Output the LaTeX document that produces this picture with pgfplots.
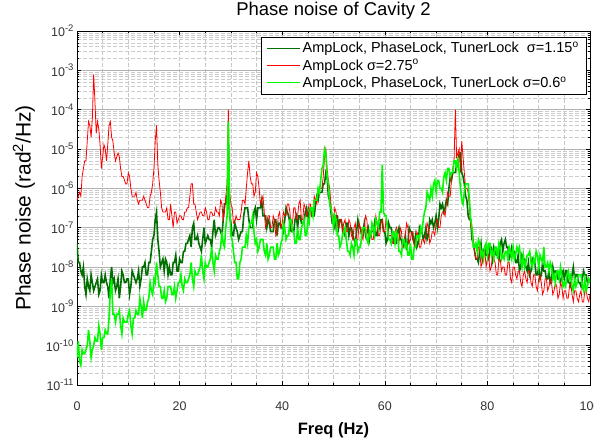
\documentclass[border=0pt]{standalone}
\usepackage{fontspec}
\setmainfont{Liberation Sans}
\usepackage{pgfplots}
\pgfplotsset{compat=1.18}
\usepackage{pgfplotstable}
\definecolor{dkgreen}{RGB}{0,110,0}
\definecolor{ltgreen}{RGB}{0,250,0}
\newcommand{\ex}[1]{10\raisebox{0.42em}{\fontsize{9.5}{10}\selectfont #1}}
\pgfplotstableread{
x R D G
0 5.0e-7 4.0e-8 5.0e-11
0.25 6.3e-7 1.3e-8 1.3e-10
0.5 7.9e-7 1.3e-8 4.0e-11
0.75 6.3e-7 7.9e-9 3.2e-11
1 2.0e-6 6.3e-9 7.9e-11
1.25 3.2e-6 1e-8 6.3e-11
1.5 5.0e-6 3.2e-9 6.3e-11
1.75 5.0e-6 2.0e-9 7.9e-11
2 1.6e-5 5.0e-9 1e-10
2.25 5.0e-5 3.2e-9 2.5e-10
2.5 4.0e-5 2.5e-9 1.3e-10
2.75 2.0e-5 6.3e-9 5.0e-11
3 6.3e-5 4.0e-9 7.9e-11
3.25 7.9e-4 2.5e-9 1e-10
3.5 1.6e-4 3.2e-9 1.6e-10
3.75 2.5e-5 4.0e-9 1.3e-10
4 5.0e-5 5.0e-9 1.3e-10
4.25 3.2e-5 2.0e-9 3.2e-10
4.5 1.3e-5 2.5e-9 2.0e-10
4.75 3.2e-6 6.3e-9 7.9e-11
5 6.3e-6 4.0e-9 1.6e-10
5.25 1.3e-5 4.0e-9 1.6e-10
5.5 1e-5 6.3e-9 2.5e-10
5.75 5.0e-6 4.0e-9 2.0e-10
6 1.3e-5 3.2e-9 2.0e-10
6.25 4.0e-5 1.6e-9 5.0e-10
6.5 5.0e-5 5.0e-9 2.5e-9
6.75 2.0e-5 1e-8 5.0e-9
7 1.6e-5 4.0e-9 6.3e-10
7.25 7.9e-6 5.0e-9 6.3e-10
7.5 5.0e-6 2.5e-9 4.0e-10
7.75 6.3e-6 3.2e-9 6.3e-10
8 7.9e-6 5.0e-9 6.3e-10
8.25 6.3e-6 1.6e-9 7.9e-10
8.5 3.2e-6 3.2e-9 3.2e-10
8.75 2.0e-6 7.9e-9 2.0e-10
9 2.0e-6 6.3e-9 5.0e-10
9.25 1.6e-6 4.0e-9 4.0e-10
9.5 1.3e-6 4.0e-9 4.0e-10
9.75 1.3e-6 5.0e-9 4.0e-10
10 2.5e-6 5.0e-9 6.3e-10
10.25 2.0e-6 2.0e-9 7.9e-10
10.5 1e-6 3.2e-9 3.2e-10
10.75 6.3e-7 7.9e-9 2.0e-10
11 6.3e-7 6.3e-9 5.0e-10
11.25 6.3e-7 5.0e-9 5.0e-10
11.5 7.9e-7 4.0e-9 7.9e-10
11.75 5.0e-7 5.0e-9 6.3e-10
12 4.0e-7 7.9e-9 6.3e-10
12.25 5.0e-7 3.2e-9 1.6e-9
12.5 5.0e-7 5.0e-9 1e-9
12.75 5.0e-7 1e-8 5.0e-10
13 6.3e-7 1e-8 1.3e-9
13.25 5.0e-7 1.3e-8 7.9e-10
13.5 4.0e-7 6.3e-9 7.9e-10
13.75 3.2e-7 6.3e-9 1.3e-9
14 3.2e-7 1.3e-8 1.6e-9
14.25 6.3e-7 1.3e-8 4.0e-9
14.5 7.9e-7 2.5e-8 2.5e-9
14.75 1.3e-6 5.0e-8 2.0e-9
15 3.2e-6 6.3e-8 5.0e-9
15.25 1.6e-5 1.6e-7 4.0e-9
15.5 4.0e-5 2.5e-7 1.3e-8
15.75 4.0e-6 5.0e-8 6.3e-9
16 1.6e-6 2.5e-8 3.2e-9
16.25 7.9e-7 1e-8 3.2e-9
16.5 3.2e-7 1.3e-8 1.6e-9
16.75 2.5e-7 1.6e-8 1.6e-9
17 2.5e-7 7.9e-9 2.5e-9
17.25 2.5e-7 1.6e-8 1.3e-9
17.5 3.2e-7 1.3e-8 1.6e-9
17.75 1.6e-7 6.3e-9 3.2e-9
18 1.6e-7 1e-8 3.2e-9
18.25 4.0e-7 6.3e-9 3.2e-9
18.5 2.0e-7 6.3e-9 2.0e-9
18.75 1e-7 1.3e-8 2.0e-9
19 2.5e-7 1.3e-8 3.2e-9
19.25 2.5e-7 2.0e-8 1.6e-9
19.5 1.3e-7 7.9e-9 2.5e-9
19.75 1.6e-7 7.9e-9 4.0e-9
20 2.0e-7 1.6e-8 4.0e-9
20.25 2.0e-7 1.3e-8 6.3e-9
20.5 1.6e-7 1.3e-8 3.2e-9
20.75 1.6e-7 2.5e-8 2.5e-9
21 2.5e-7 2.5e-8 5.0e-9
21.25 2.5e-7 4.0e-8 4.0e-9
21.5 3.2e-7 4.0e-8 4.0e-9
21.75 3.2e-7 5.0e-8 5.0e-9
22 6.3e-7 6.3e-8 6.3e-9
22.25 1.3e-6 3.2e-8 1.3e-8
22.5 1.3e-6 1e-7 5.0e-9
22.75 4.0e-7 1.3e-7 3.2e-9
23 4.0e-7 5.0e-8 7.9e-9
23.25 2.5e-7 5.0e-8 6.3e-9
23.5 1.6e-7 6.3e-8 6.3e-9
23.75 2.0e-7 4.0e-8 7.9e-9
24 2.5e-7 3.2e-8 1e-8
24.25 2.5e-7 2.5e-8 2.0e-8
24.5 2.0e-7 5.0e-8 7.9e-9
24.75 2.0e-7 1e-7 5.0e-9
25 3.2e-7 4.0e-8 1.3e-8
25.25 2.5e-7 5.0e-8 1e-8
25.5 1.6e-7 6.3e-8 1e-8
25.75 1.6e-7 5.0e-8 1.3e-8
26 2.5e-7 5.0e-8 1.6e-8
26.25 2.5e-7 3.2e-8 3.2e-8
26.5 2.0e-7 7.9e-8 1.3e-8
26.75 2.0e-7 1.6e-7 7.9e-9
27 3.2e-7 6.3e-8 2.0e-8
27.25 2.5e-7 7.9e-8 1.6e-8
27.5 2.5e-7 1e-7 1.6e-8
27.75 2.0e-7 1e-7 2.5e-8
28 5.0e-7 7.9e-8 3.2e-8
28.25 4.0e-7 6.3e-8 7.9e-8
28.5 1.6e-7 1.6e-7 4.0e-8
28.75 2.5e-7 4.0e-7 3.2e-8
29 6.3e-7 4.0e-7 1e-7
29.25 1.3e-6 6.3e-7 2.0e-7
29.5 1e-4 1e-6 5.0e-5
29.75 7.9e-7 2.0e-7 3.2e-7
30 4.0e-7 1.3e-7 6.3e-8
30.25 3.2e-7 6.3e-8 5.0e-8
30.5 1.3e-7 6.3e-8 2.5e-8
30.75 1.3e-7 1.3e-7 1.3e-8
31 2.0e-7 1e-7 1.3e-8
31.25 1.6e-7 7.9e-8 5.0e-9
31.5 1.6e-7 5.0e-8 5.0e-9
31.75 1.6e-7 6.3e-8 1.3e-8
32 2.5e-7 7.9e-8 1.6e-8
32.25 5.0e-7 7.9e-8 3.2e-8
32.5 5.0e-7 2.0e-7 3.2e-8
32.75 4.0e-7 3.2e-7 3.2e-8
33 1e-6 3.2e-7 6.3e-8
33.25 2.5e-6 3.2e-7 4.0e-8
33.5 5.0e-6 1.6e-7 1e-7
33.75 2.0e-6 1e-7 1.3e-7
34 1.3e-6 1e-7 1.3e-7
34.25 1.3e-6 1e-7 2.0e-7
34.5 6.3e-7 2.5e-7 7.9e-8
34.75 7.9e-7 3.2e-7 4.0e-8
35 2.5e-6 1.6e-7 5.0e-8
35.25 2.0e-6 3.2e-7 2.5e-8
35.5 1e-6 3.2e-7 3.2e-8
35.75 4.0e-7 3.2e-7 5.0e-8
36 5.0e-7 5.0e-7 5.0e-8
36.25 6.3e-7 2.0e-7 5.0e-8
36.5 2.5e-7 2.0e-7 2.5e-8
36.75 1e-7 2.0e-7 2.0e-8
37 1.3e-7 1e-7 4.0e-8
37.25 2.0e-7 1.6e-7 1.6e-8
37.5 2.0e-7 1.3e-7 2.0e-8
37.75 1e-7 7.9e-8 3.2e-8
38 1e-7 7.9e-8 3.2e-8
38.25 2.0e-7 7.9e-8 3.2e-8
38.5 1.6e-7 1.6e-7 1.6e-8
38.75 6.3e-8 1.6e-7 1.6e-8
39 7.9e-8 6.3e-8 4.0e-8
39.25 2.0e-7 1.3e-7 2.0e-8
39.5 2.5e-7 1.3e-7 2.5e-8
39.75 1e-7 1e-7 4.0e-8
40 1.3e-7 1e-7 5.0e-8
40.25 2.5e-7 7.9e-8 1.3e-7
40.5 2.0e-7 1.6e-7 1e-7
40.75 2.0e-7 3.2e-7 5.0e-8
41 4.0e-7 2.5e-7 6.3e-8
41.25 4.0e-7 2.0e-7 6.3e-8
41.5 2.5e-7 1.3e-7 1.6e-7
41.75 1e-7 7.9e-8 1.6e-7
42 1.3e-7 7.9e-8 7.9e-8
42.25 3.2e-7 7.9e-8 7.9e-8
42.5 3.2e-7 1.6e-7 4.0e-8
42.75 1.6e-7 2.0e-7 4.0e-8
43 2.0e-7 1e-7 1e-7
43.25 4.0e-7 2.0e-7 5.0e-8
43.5 5.0e-7 2.0e-7 5.0e-8
43.75 1.6e-7 1.3e-7 1e-7
44 1.6e-7 1.3e-7 1.3e-7
44.25 4.0e-7 1.3e-7 1.6e-7
44.5 3.2e-7 2.5e-7 6.3e-8
44.75 2.0e-7 3.2e-7 6.3e-8
45 2.5e-7 1.6e-7 1.6e-7
45.25 4.0e-7 2.5e-7 1.3e-7
45.5 4.0e-7 3.2e-7 3.2e-7
45.75 2.0e-7 2.0e-7 3.2e-7
46 2.5e-7 2.0e-7 2.0e-7
46.25 6.3e-7 2.0e-7 5.0e-7
46.5 5.0e-7 4.0e-7 5.0e-7
46.75 4.0e-7 6.3e-7 5.0e-7
47 7.9e-7 5.0e-7 1e-6
47.25 1e-6 7.9e-7 7.9e-7
47.5 1e-6 7.9e-7 1.6e-6
47.75 1e-6 7.9e-7 3.2e-6
48 2.0e-6 1.3e-6 4.0e-6
48.25 6.3e-6 1.3e-6 1e-5
48.5 1e-5 2.5e-6 7.9e-6
48.75 3.2e-6 2.0e-6 2.0e-6
49 1.6e-6 6.3e-7 1.3e-6
49.25 1e-6 5.0e-7 4.0e-7
49.5 4.0e-7 2.5e-7 3.2e-7
49.75 1.6e-7 1.3e-7 2.0e-7
50 1.6e-7 1.3e-7 1e-7
50.25 3.2e-7 1e-7 2.0e-7
50.5 2.5e-7 2.0e-7 1.6e-7
50.75 1e-7 2.0e-7 6.3e-8
51 1e-7 1e-7 6.3e-8
51.25 1.6e-7 1.6e-7 3.2e-8
51.5 1.6e-7 1.6e-7 4.0e-8
51.75 7.9e-8 1e-7 6.3e-8
52 1.3e-7 7.9e-8 7.9e-8
52.25 1.6e-7 6.3e-8 1e-7
52.5 7.9e-8 1.3e-7 5.0e-8
52.75 7.9e-8 1.3e-7 2.5e-8
53 1.6e-7 6.3e-8 2.5e-8
53.25 1.3e-7 1e-7 2.0e-8
53.5 6.3e-8 1e-7 4.0e-8
53.75 5.0e-8 6.3e-8 3.2e-8
54 1e-7 5.0e-8 2.0e-8
54.25 1.3e-7 4.0e-8 5.0e-8
54.5 5.0e-8 7.9e-8 5.0e-8
54.75 5.0e-8 1.6e-7 2.5e-8
55 1.3e-7 1e-7 3.2e-8
55.25 1e-7 1e-7 3.2e-8
55.5 6.3e-8 6.3e-8 6.3e-8
55.75 5.0e-8 7.9e-8 1e-7
56 1e-7 1.3e-7 1e-7
56.25 2.0e-7 6.3e-8 1e-7
56.5 1.6e-7 7.9e-8 5.0e-8
56.75 6.3e-8 1e-7 4.0e-8
57 7.9e-8 5.0e-8 7.9e-8
57.25 7.9e-8 7.9e-8 6.3e-8
57.5 5.0e-8 7.9e-8 1.3e-7
57.75 5.0e-8 7.9e-8 1e-7
58 1e-7 1.3e-7 6.3e-8
58.25 2.0e-7 6.3e-8 1.6e-7
58.5 1.3e-7 6.3e-8 1.3e-7
58.75 6.3e-8 1.3e-7 1e-7
59 6.3e-8 1e-7 2.5e-7
59.25 1.3e-7 1.6e-7 2.5e-7
59.5 1.6e-7 1.6e-7 4.0e-6
59.75 7.9e-8 7.9e-8 2.5e-7
60 7.9e-8 7.9e-8 2.0e-7
60.25 1.6e-7 4.0e-8 2.0e-7
60.5 1.3e-7 5.0e-8 1e-7
60.75 6.3e-8 1.3e-7 5.0e-8
61 6.3e-8 1e-7 5.0e-8
61.25 6.3e-8 1e-7 4.0e-8
61.5 4.0e-8 6.3e-8 7.9e-8
61.75 4.0e-8 4.0e-8 7.9e-8
62 7.9e-8 4.0e-8 4.0e-8
62.25 1e-7 4.0e-8 7.9e-8
62.5 5.0e-8 7.9e-8 6.3e-8
62.75 4.0e-8 1e-7 2.5e-8
63 1e-7 5.0e-8 2.5e-8
63.25 7.9e-8 5.0e-8 2.0e-8
63.5 3.2e-8 3.2e-8 5.0e-8
63.75 3.2e-8 4.0e-8 5.0e-8
64 6.3e-8 6.3e-8 3.2e-8
64.25 1.3e-7 3.2e-8 4.0e-8
64.5 1e-7 4.0e-8 2.0e-8
64.75 4.0e-8 1e-7 2.0e-8
65 5.0e-8 7.9e-8 4.0e-8
65.25 7.9e-8 7.9e-8 1.6e-8
65.5 7.9e-8 5.0e-8 1.6e-8
65.75 3.2e-8 4.0e-8 3.2e-8
66 4.0e-8 6.3e-8 3.2e-8
66.25 7.9e-8 3.2e-8 6.3e-8
66.5 6.3e-8 4.0e-8 6.3e-8
66.75 3.2e-8 1e-7 5.0e-8
67 3.2e-8 7.9e-8 1e-7
67.25 5.0e-8 7.9e-8 7.9e-8
67.5 5.0e-8 5.0e-8 1.6e-7
67.75 4.0e-8 6.3e-8 2.5e-7
68 6.3e-8 1e-7 3.2e-7
68.25 1.3e-7 5.0e-8 7.9e-7
68.5 1e-7 6.3e-8 6.3e-7
68.75 4.0e-8 1.6e-7 5.0e-7
69 5.0e-8 1.3e-7 1e-6
69.25 7.9e-8 1.6e-7 6.3e-7
69.5 7.9e-8 1e-7 1.3e-6
69.75 6.3e-8 1.3e-7 1.6e-6
70 1.3e-7 2.0e-7 7.9e-7
70.25 1.6e-7 1e-7 1.6e-6
70.5 1e-7 1.6e-7 1.6e-6
70.75 1e-7 4.0e-7 1e-6
71 2.0e-7 3.2e-7 1e-6
71.25 2.5e-7 4.0e-7 7.9e-7
71.5 2.5e-7 2.5e-7 2.0e-6
71.75 2.0e-7 3.2e-7 2.5e-6
72 4.0e-7 5.0e-7 1.6e-6
72.25 7.9e-7 4.0e-7 3.2e-6
72.5 6.3e-7 1e-6 3.2e-6
72.75 6.3e-7 2.0e-6 2.0e-6
73 1.6e-6 1.6e-6 2.5e-6
73.25 3.2e-6 2.5e-6 2.5e-6
73.5 5.0e-6 2.5e-6 5.0e-6
73.75 1e-4 2.5e-6 5.0e-6
74 6.3e-6 4.0e-6 3.2e-6
74.25 7.9e-6 4.0e-6 6.3e-6
74.5 1e-5 7.9e-6 2.5e-6
74.75 2.5e-6 7.9e-6 1e-6
75 1.6e-5 2.5e-6 5.0e-7
75.25 6.3e-6 2.0e-6 4.0e-7
75.5 2.5e-6 1.3e-6 7.9e-7
75.75 1e-6 6.3e-7 1.3e-6
76 1e-6 5.0e-7 1.3e-6
76.25 7.9e-7 2.0e-7 1.3e-6
76.5 3.2e-7 1.6e-7 5.0e-7
76.75 1e-7 1.6e-7 1.6e-7
77 1e-7 5.0e-8 1e-7
77.25 5.0e-8 4.0e-8 3.2e-8
77.5 2.5e-8 2.5e-8 3.2e-8
77.75 1.6e-8 1.6e-8 4.0e-8
78 1.6e-8 1.6e-8 2.5e-8
78.25 3.2e-8 1.3e-8 5.0e-8
78.5 3.2e-8 2.5e-8 4.0e-8
78.75 1e-8 4.0e-8 2.0e-8
79 1.3e-8 1.6e-8 2.5e-8
79.25 2.5e-8 2.5e-8 1.6e-8
79.5 2.5e-8 3.2e-8 3.2e-8
79.75 1e-8 2.0e-8 4.0e-8
80 1.6e-8 2.0e-8 2.0e-8
80.25 2.0e-8 1.6e-8 4.0e-8
80.5 7.9e-9 3.2e-8 4.0e-8
80.75 1e-8 3.2e-8 2.0e-8
81 2.0e-8 1.6e-8 2.5e-8
81.25 1.6e-8 3.2e-8 1.6e-8
81.5 1.3e-8 2.5e-8 3.2e-8
81.75 6.3e-9 2.0e-8 3.2e-8
82 6.3e-9 2.0e-8 1.6e-8
82.25 1.6e-8 1.6e-8 4.0e-8
82.5 1.6e-8 4.0e-8 3.2e-8
82.75 7.9e-9 5.0e-8 1.6e-8
83 1e-8 2.5e-8 2.0e-8
83.25 1e-8 4.0e-8 1.6e-8
83.5 6.3e-9 5.0e-8 2.5e-8
83.75 6.3e-9 3.2e-8 2.5e-8
84 1.3e-8 3.2e-8 1.6e-8
84.25 1.3e-8 1.6e-8 3.2e-8
84.5 5.0e-9 2.0e-8 2.5e-8
84.75 4.0e-9 3.2e-8 1.6e-8
85 1e-8 2.5e-8 3.2e-8
85.25 1e-8 2.5e-8 1.6e-8
85.5 6.3e-9 1.3e-8 2.0e-8
85.75 5.0e-9 1.3e-8 3.2e-8
86 7.9e-9 2.0e-8 2.5e-8
86.25 7.9e-9 7.9e-9 3.2e-8
86.5 4.0e-9 1e-8 1.6e-8
86.75 3.2e-9 2.0e-8 1e-8
87 6.3e-9 1.6e-8 2.0e-8
87.25 7.9e-9 1.6e-8 1e-8
87.5 5.0e-9 1e-8 1.3e-8
87.75 4.0e-9 7.9e-9 2.0e-8
88 7.9e-9 1.3e-8 2.0e-8
88.25 7.9e-9 6.3e-9 2.5e-8
88.5 4.0e-9 7.9e-9 1.3e-8
88.75 3.2e-9 1.6e-8 1e-8
89 6.3e-9 1.3e-8 1.6e-8
89.25 6.3e-9 1.3e-8 1.3e-8
89.5 3.2e-9 6.3e-9 2.5e-8
89.75 2.5e-9 6.3e-9 2.0e-8
90 5.0e-9 1e-8 1e-8
90.25 6.3e-9 5.0e-9 2.0e-8
90.5 4.0e-9 6.3e-9 1.6e-8
90.75 2.0e-9 1.3e-8 1.3e-8
91 2.5e-9 7.9e-9 3.2e-8
91.25 5.0e-9 7.9e-9 1e-8
91.5 5.0e-9 5.0e-9 1e-8
91.75 2.5e-9 5.0e-9 1.3e-8
92 3.2e-9 7.9e-9 7.9e-9
92.25 5.0e-9 4.0e-9 1.3e-8
92.5 4.0e-9 5.0e-9 1e-8
92.75 2.0e-9 1e-8 5.0e-9
93 2.5e-9 6.3e-9 6.3e-9
93.25 4.0e-9 7.9e-9 4.0e-9
93.5 3.2e-9 7.9e-9 7.9e-9
93.75 1.6e-9 5.0e-9 7.9e-9
94 2.0e-9 5.0e-9 5.0e-9
94.25 4.0e-9 4.0e-9 1e-8
94.5 3.2e-9 6.3e-9 6.3e-9
94.75 1.6e-9 7.9e-9 3.2e-9
95 2.5e-9 5.0e-9 4.0e-9
95.25 2.5e-9 7.9e-9 3.2e-9
95.5 1.6e-9 7.9e-9 6.3e-9
95.75 1.6e-9 4.0e-9 7.9e-9
96 3.2e-9 4.0e-9 5.0e-9
96.25 4.0e-9 3.2e-9 6.3e-9
96.5 2.0e-9 6.3e-9 3.2e-9
96.75 1.3e-9 1e-8 2.5e-9
97 2.5e-9 5.0e-9 5.0e-9
97.25 2.5e-9 6.3e-9 3.2e-9
97.5 1.6e-9 6.3e-9 4.0e-9
97.75 1.3e-9 4.0e-9 6.3e-9
98 2.0e-9 4.0e-9 6.3e-9
98.25 2.5e-9 3.2e-9 6.3e-9
98.5 1.3e-9 5.0e-9 3.2e-9
98.75 1.3e-9 7.9e-9 2.5e-9
99 2.5e-9 6.3e-9 5.0e-9
99.25 2.5e-9 6.3e-9 2.5e-9
99.5 1.6e-9 4.0e-9 3.2e-9
99.75 1.3e-9 4.0e-9 5.0e-9
100 2.0e-9 5.0e-9 4.0e-9
}\datatable
\begin{document}
\begin{tikzpicture}
\useasboundingbox (-77pt,-56pt) rectangle (517pt,385pt);
\begin{axis}[
  at={(0pt,0pt)}, anchor=south west,
  scale only axis, width=513pt, height=354pt,
  xmin=0, xmax=100, ymin=1e-11, ymax=1e-2, ymode=log,
  /pgf/number format/assume math mode=true,
  xtick={0,20,40,60,80,100},
  xticklabels={0,20,40,60,80,100},
  minor xtick={5,10,15,25,30,35,45,50,55,65,70,75,85,90,95},
  ytick={1e-11,1e-10,1e-9,1e-8,1e-7,1e-6,1e-5,1e-4,1e-3,1e-2},
  yticklabels={\ex{-11},\ex{-10},\ex{-9},\ex{-8},\ex{-7},\ex{-6},\ex{-5},\ex{-4},\ex{-3},\ex{-2}},
  minor ytick={2e-11,3e-11,4e-11,5e-11,6e-11,7e-11,8e-11,9e-11,
    2e-10,3e-10,4e-10,5e-10,6e-10,7e-10,8e-10,9e-10,
    2e-9,3e-9,4e-9,5e-9,6e-9,7e-9,8e-9,9e-9,
    2e-8,3e-8,4e-8,5e-8,6e-8,7e-8,8e-8,9e-8,
    2e-7,3e-7,4e-7,5e-7,6e-7,7e-7,8e-7,9e-7,
    2e-6,3e-6,4e-6,5e-6,6e-6,7e-6,8e-6,9e-6,
    2e-5,3e-5,4e-5,5e-5,6e-5,7e-5,8e-5,9e-5,
    2e-4,3e-4,4e-4,5e-4,6e-4,7e-4,8e-4,9e-4,
    2e-3,3e-3,4e-3,5e-3,6e-3,7e-3,8e-3,9e-3},
  grid=both,
  major x grid style={gray!45, dash pattern=on 4pt off 2pt, line width=0.6pt},
  minor x grid style={gray!45, dash pattern=on 4pt off 2pt, line width=0.6pt},
  major y grid style={gray!60, line width=1pt},
  minor y grid style={gray!40, dash pattern=on 4pt off 2pt, line width=0.6pt},
  axis line style={line width=0.8pt},
  tick style={black, line width=0.6pt},
  major tick length=4pt, minor tick length=2.5pt,
  ticklabel style={font=\fontsize{12.5}{14}\selectfont, text=black!80},
  xticklabel style={yshift=-13pt, font=\fontsize{12.5}{14}\selectfont},
  title={Phase noise of Cavity 2},
  title style={font=\fontsize{18.5}{21}\selectfont, at={(0.5,1)}, anchor=south, yshift=2pt},
  xlabel={\textbf{Freq (Hz)}},
  xlabel style={font=\fontsize{16.5}{19}\selectfont, at={(axis description cs:0.5,0)}, anchor=center, yshift=-45pt},
  ylabel={Phase noise (rad\textsuperscript{2}/Hz)},
  ylabel style={font=\fontsize{21}{24}\selectfont, at={(axis description cs:0,0.5)}, anchor=center, yshift=53pt},
  legend cell align=left,
  legend image code/.code={\draw[#1] (0pt,0pt) -- (33pt,0pt);},
  legend style={at={(0.992,0.983)}, anchor=north east, draw=black,
    font=\fontsize{14.5}{17}\selectfont, inner xsep=5pt, inner ysep=3pt, row sep=1pt},
]
\addplot[dkgreen, line width=1.6pt] table[x=x, y=D] {\datatable};
\addlegendentry{AmpLock, PhaseLock, TunerLock\ \ σ=1.15\textsuperscript{o}}
\addplot[red, line width=0.8pt] table[x=x, y=R] {\datatable};
\addlegendentry{AmpLock σ=2.75\textsuperscript{o}}
\addplot[ltgreen, line width=1.6pt] table[x=x, y=G] {\datatable};
\addlegendentry{AmpLock, PhaseLock, TunerLock σ=0.6\textsuperscript{o}}
\end{axis}
\end{tikzpicture}
\end{document}
